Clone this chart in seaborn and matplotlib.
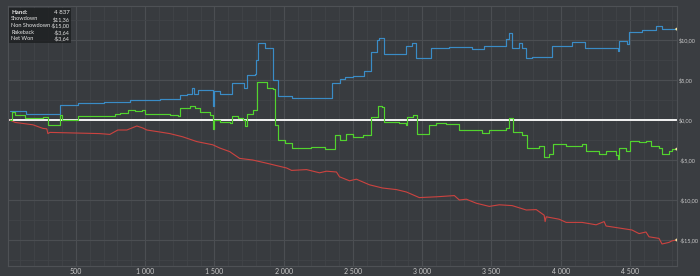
import matplotlib
matplotlib.use("Agg")
import matplotlib.pyplot as plt
import seaborn as sns
import pandas as pd
from matplotlib.ticker import FixedLocator, FixedFormatter, MultipleLocator

# ---------------- data ----------------
showdown_x = [25, 140, 385, 515, 700, 889, 1106, 1250, 1300, 1336, 1350, 1380, 1488, 1495,
              1538, 1610, 1624, 1711, 1733, 1790, 1797, 1812, 1862, 1920, 1956, 2057, 2352,
              2403, 2439, 2497, 2583, 2633, 2677, 2691, 2727, 2886, 2929, 2958, 3066, 3195,
              3361, 3448, 3606, 3629, 3649, 3700, 3722, 3751, 3794, 3938, 4039, 4082, 4176,
              4413, 4421, 4478, 4493, 4587, 4688, 4731, 4837]
showdown_y = [1.1, 0.7, 1.9, 2.1, 2.3, 2.5, 2.6, 3.1, 3.3, 4.0, 3.3, 3.75, 1.7, 3.6,
              3.3, 3.25, 4.6, 4.0, 5.6, 5.75, 7.5, 9.6, 8.96, 5.0, 3.0, 2.7, 4.6,
              5.1, 5.4, 5.5, 6.1, 8.5, 10.0, 10.2, 8.3, 9.2, 9.6, 7.8, 9.0, 9.1,
              8.9, 9.2, 10.1, 10.9, 9.0, 9.6, 9.0, 7.7, 7.9, 9.2, 9.3, 9.7, 9.0,
              8.6, 9.9, 9.5, 11.0, 11.3, 11.7, 11.4, 11.36]

netwon_x = [25, 39, 61, 133, 200, 262, 298, 385, 399, 515, 673, 781, 817, 875, 925, 976,
            997, 1106, 1178, 1235, 1250, 1322, 1358, 1394, 1466, 1488, 1495, 1538, 1610,
            1624, 1668, 1704, 1718, 1733, 1776, 1805, 1877, 1920, 1934, 1956, 2006, 2057,
            2200, 2300, 2352, 2367, 2403, 2453, 2497, 2569, 2633, 2684, 2713, 2727, 2835,
            2886, 2893, 2936, 2965, 3051, 3102, 3174, 3268, 3434, 3484, 3606, 3629, 3657,
            3722, 3758, 3844, 3880, 3916, 3945, 4039, 4154, 4183, 4277, 4327, 4399, 4413,
            4421, 4471, 4500, 4565, 4615, 4652, 4709, 4731, 4781, 4803, 4837]
netwon_y = [0.0, 1.0, 0.6, 0.3, 0.25, 0.35, -0.6, 0.6, 0.0, 0.5, 0.5, 0.8, 0.9, 1.3, 1.1, 1.3,
            0.8, 0.7, 0.6, 0.5, 1.5, 1.8, 1.5, 1.0, 0.6, -1.1, 0.0, -0.3, -0.4,
            0.5, 0.3, 0.0, -0.8, 0.75, 1.25, 4.7, 4.0, 3.9, -0.6, -2.5, -2.9, -3.5,
            -3.4, -3.6, -3.6, -1.9, -2.5, -1.7, -2.1, -1.9, 0.4, 1.7, 1.6, -0.2, -0.4,
            -0.6, 0.4, 0.6, -1.7, -0.6, -0.4, -0.45, -1.25, -1.6, -1.2, -1.0, 0.2, -1.5,
            -1.9, -3.5, -3.3, -4.6, -4.2, -3.05, -3.3, -3.0, -3.9, -4.2, -3.9, -4.4, -4.9,
            -3.5, -3.9, -2.6, -2.8, -2.6, -3.3, -3.5, -4.2, -3.9, -3.64, -3.64]

nonsd_x = [25, 61, 190, 262, 290, 298, 313, 673, 745, 803, 868, 940, 983, 1012, 1106, 1178,
           1271, 1373, 1488, 1538, 1610, 1682, 1776, 1877, 2021, 2057, 2165, 2259, 2309,
           2381, 2403, 2475, 2525, 2619, 2713, 2814, 2886, 2979, 3102, 3232, 3268, 3318,
           3390, 3484, 3556, 3649, 3751, 3823, 3880, 3887, 3895, 3988, 4039, 4154, 4255,
           4313, 4327, 4421, 4514, 4565, 4615, 4637, 4709, 4731, 4781, 4803, 4837]
nonsd_y = [0.0, -0.3, -0.6, -1.05, -1.1, -1.7, -1.55, -1.7, -1.8, -1.25, -1.25, -0.75, -1.0,
           -1.25, -1.5, -1.7, -2.1, -2.7, -3.1, -3.5, -3.95, -4.8, -5.0, -5.4, -6.0, -6.3,
           -6.2, -6.6, -6.4, -6.5, -7.1, -7.6, -7.4, -8.1, -8.5, -8.7, -9.0, -9.7, -9.6,
           -9.45, -10.0, -9.9, -10.4, -10.8, -10.6, -10.7, -11.25, -11.2, -11.9, -12.7,
           -12.1, -12.4, -12.8, -12.8, -13.1, -12.7, -13.25, -13.5, -13.75, -14.2, -14.0,
           -14.6, -14.8, -15.5, -15.3, -15.1, -15.0]

x_ticks = [500, 1000, 1500, 2000, 2500, 3000, 3500, 4000, 4500]
x_tick_labels = ["500", "1 000", "1 500", "2 000", "2 500", "3 000", "3 500", "4 000", "4 500"]
y_ticks = [10, 5, 0, -5, -10, -15]
y_tick_labels = ["$10,00", "$5,00", "$0,00", "-$5,00", "-$10,00", "-$15,00"]

info_labels = ["Hand:", "Showdown", "Non Showdown", "Rakeback", "Net Won"]
info_values = ["4 837", "$11,36", "-$15,00", "-$3,64", "-$3,64"]

# ---------------- style ----------------
BG = "#383b3f"
sns.set_theme(style="dark")
plt.rcParams["font.family"] = ["Lato", "DejaVu Sans"]

fig = plt.figure(figsize=(7.0, 2.76), dpi=100, facecolor="#3a3d41")
ax = fig.add_axes([8 / 700, 10 / 276, 669 / 700, 260 / 276])
ax.set_facecolor(BG)

df_sd = pd.DataFrame({"hand": showdown_x, "value": showdown_y})
df_nw = pd.DataFrame({"hand": netwon_x, "value": netwon_y})
df_ns = pd.DataFrame({"hand": nonsd_x, "value": nonsd_y})

ax.axhline(0, color="#f2f2f2", lw=1.4, zorder=2)
sns.lineplot(data=df_ns, x="hand", y="value", ax=ax, color="#cc4340", lw=0.8,
             estimator=None, sort=False, zorder=3)
sns.lineplot(data=df_sd, x="hand", y="value", ax=ax, color="#3a8cc6", lw=0.85,
             estimator=None, sort=False, drawstyle="steps-post", zorder=3)
sns.lineplot(data=df_nw, x="hand", y="value", ax=ax, color="#52d42e", lw=0.85,
             estimator=None, sort=False, drawstyle="steps-post", zorder=4)
ends = pd.DataFrame({"hand": [showdown_x[-1], netwon_x[-1], nonsd_x[-1]],
                     "value": [showdown_y[-1], netwon_y[-1], nonsd_y[-1]]})
sns.scatterplot(data=ends, x="hand", y="value", ax=ax, color="#f3e3a0", s=4,
                edgecolor="none", zorder=5)

ax.set_xlim(10, 4839)
ax.set_ylim(-18.25, 14.25)

ax.xaxis.set_major_locator(FixedLocator(x_ticks))
ax.xaxis.set_major_formatter(FixedFormatter(x_tick_labels))
ax.xaxis.set_minor_locator(MultipleLocator(100))
ax.yaxis.set_major_locator(FixedLocator(y_ticks))
ax.yaxis.set_major_formatter(FixedFormatter(y_tick_labels))
ax.yaxis.set_minor_locator(MultipleLocator(2.5))
ax.yaxis.tick_right()

ax.grid(which="major", color="#4b4e52", lw=0.8)
ax.grid(which="minor", color="#414448", lw=0.6)
ax.tick_params(which="both", length=0)
ax.tick_params(axis="x", labelsize=5.0, labelcolor="#c9c9c9", pad=1.5)
ax.tick_params(axis="y", labelsize=4.0, labelcolor="#c9c9c9", pad=1.6)
ax.set_xlabel("")
ax.set_ylabel("")
for s in ax.spines.values():
    s.set_color("#4e5155")
    s.set_linewidth(0.8)

# info box (pixel coordinates of the figure)
def px(x, y):
    return x / 700, 1 - y / 276

bx, by = px(9, 43)
fig.patches.append(plt.Rectangle((bx, by), 62 / 700, 35 / 276, transform=fig.transFigure,
                                 facecolor="#1e2022", edgecolor="none", alpha=0.85, zorder=10))
row_y = [12, 19, 25.6, 32.2, 38.8]
for i, (lab, val) in enumerate(zip(info_labels, info_values)):
    w = "bold" if i == 0 else "normal"
    fs = 4.4 if i == 0 else 4.0
    x0, y0 = px(11, row_y[i])
    fig.text(x0, y0, lab, color="#e8e8e8", fontsize=fs, fontweight=w, va="center",
             ha="left", zorder=11)
    x1, _ = px(69.5, row_y[i])
    fig.text(x1, y0, val, color="#e8e8e8", fontsize=fs, va="center", ha="right", zorder=11)

fig.savefig("out.png", dpi=100, facecolor=fig.get_facecolor())
